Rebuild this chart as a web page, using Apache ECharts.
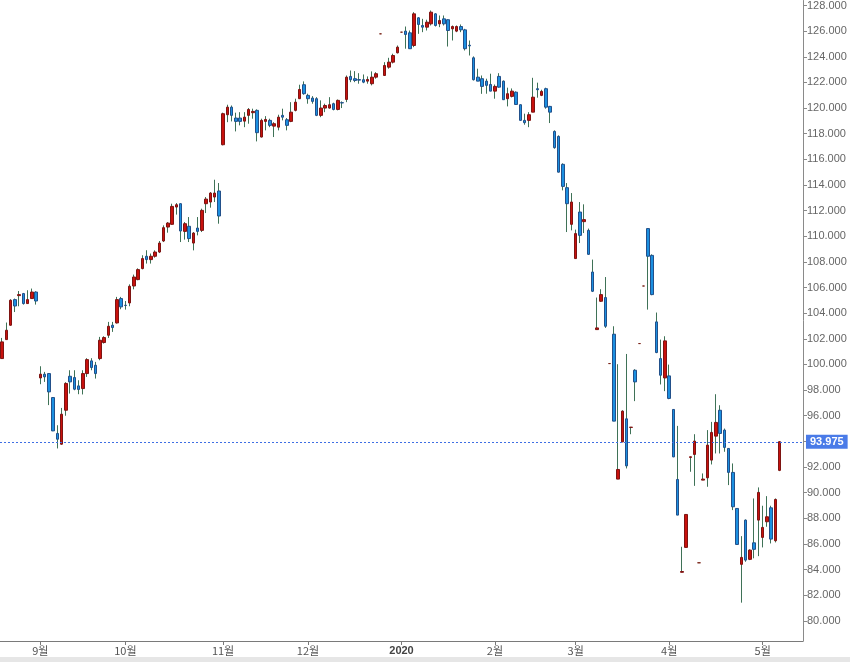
<!DOCTYPE html>
<html>
<head>
<meta charset="utf-8">
<script src="https://cdn.jsdelivr.net/npm/echarts@6/dist/echarts.min.js"></script>
<style>
html,body{margin:0;padding:0;background:#fff;}
#chart{width:850px;height:662px;}
</style>
</head>
<body>
<div id="chart"></div>
<script>
// Trading days (plus a few flat holiday bars) and empty slots to the right
const dates = [
'2019-08-20','2019-08-21','2019-08-22','2019-08-23','2019-08-26','2019-08-27','2019-08-28','2019-08-29','2019-08-30',
'2019-09-03','2019-09-04','2019-09-05','2019-09-06','2019-09-09','2019-09-10','2019-09-11','2019-09-12','2019-09-13','2019-09-16','2019-09-17','2019-09-18','2019-09-19','2019-09-20','2019-09-23','2019-09-24','2019-09-25','2019-09-26','2019-09-27','2019-09-30',
'2019-10-01','2019-10-02','2019-10-03','2019-10-04','2019-10-07','2019-10-08','2019-10-09','2019-10-10','2019-10-11','2019-10-14','2019-10-15','2019-10-16','2019-10-17','2019-10-18','2019-10-21','2019-10-22','2019-10-23','2019-10-24','2019-10-25','2019-10-28','2019-10-29','2019-10-30','2019-10-31',
'2019-11-01','2019-11-04','2019-11-05','2019-11-06','2019-11-07','2019-11-08','2019-11-11','2019-11-12','2019-11-13','2019-11-14','2019-11-15','2019-11-18','2019-11-19','2019-11-20','2019-11-21','2019-11-22','2019-11-25','2019-11-26','2019-11-27','2019-11-29',
'2019-12-02','2019-12-03','2019-12-04','2019-12-05','2019-12-06','2019-12-09','2019-12-10','2019-12-11','2019-12-12','2019-12-13','2019-12-16','2019-12-17','2019-12-18','2019-12-19','2019-12-20','2019-12-23','2019-12-24','2019-12-25','2019-12-26','2019-12-27','2019-12-30','2019-12-31',
'2020-01-01','2020-01-02','2020-01-03','2020-01-06','2020-01-07','2020-01-08','2020-01-09','2020-01-10','2020-01-13','2020-01-14','2020-01-15','2020-01-16','2020-01-17','2020-01-21','2020-01-22','2020-01-23','2020-01-24','2020-01-27','2020-01-28','2020-01-29','2020-01-30','2020-01-31',
'2020-02-03','2020-02-04','2020-02-05','2020-02-06','2020-02-07','2020-02-10','2020-02-11','2020-02-12','2020-02-13','2020-02-14','2020-02-18','2020-02-19','2020-02-20','2020-02-21','2020-02-24','2020-02-25','2020-02-26','2020-02-27','2020-02-28',
'2020-03-02','2020-03-03','2020-03-04','2020-03-05','2020-03-06','2020-03-09','2020-03-10','2020-03-11','2020-03-12','2020-03-13','2020-03-16','2020-03-17','2020-03-18','2020-03-19','2020-03-20','2020-03-23','2020-03-24','2020-03-25','2020-03-26','2020-03-27','2020-03-30','2020-03-31',
'2020-04-01','2020-04-02','2020-04-03','2020-04-06','2020-04-07','2020-04-08','2020-04-09','2020-04-10','2020-04-13','2020-04-14','2020-04-15','2020-04-16','2020-04-17','2020-04-20','2020-04-21','2020-04-22','2020-04-23','2020-04-24','2020-04-27','2020-04-28','2020-04-29','2020-04-30',
'2020-05-01','2020-05-04','2020-05-05','2020-05-06','2020-05-07',
'2020-05-08','2020-05-11','2020-05-12','2020-05-13','2020-05-14'
];

const opens = [
100.46,101.94,103.06,105.06,105.37,105.53,104.75,105.14,105.65,
98.95,99.24,99.29,97.42,94.62,93.78,96.43,99.08,98.98,98.33,98.12,99.29,100.28,99.94,100.46,101.71,102.28,103.06,103.24,105.14,
104.62,104.80,106.12,106.62,107.48,108.44,108.18,108.44,108.77,109.63,110.72,110.93,112.28,112.54,110.38,110.78,109.47,110.64,110.46,112.54,112.67,113.06,113.53,
117.14,119.48,120.07,119.22,119.22,118.98,119.43,119.64,119.82,117.74,118.96,119.04,118.59,118.51,119.43,119.09,118.96,119.82,120.73,121.82,
120.99,120.78,120.73,119.43,120.00,120.00,120.34,119.89,120.42,120.67,122.47,122.29,122.22,122.21,122.10,121.90,122.41,125.79,122.54,123.19,123.58,124.31,
125.92,126.00,125.87,124.88,127.04,126.44,126.31,126.57,127.35,126.57,126.96,126.89,126.18,126.00,126.36,126.10,124.90,123.92,122.41,122.29,122.10,121.84,
121.32,122.47,122.10,120.73,120.91,121.24,120.26,119.04,119.04,119.68,121.51,120.99,121.51,120.13,118.18,117.79,115.61,113.79,110.93,
108.26,111.89,111.14,110.46,107.21,102.72,104.93,105.22,100.07,102.36,91.06,93.96,95.76,95.09,99.55,101.63,106.12,110.60,108.51,103.32,100.46,98.95,
99.11,96.49,91.03,83.79,85.73,92.75,92.98,84.53,90.98,91.16,92.54,94.41,96.43,94.88,93.45,91.58,88.77,84.41,87.86,84.80,86.09,87.86,
86.51,87.73,88.82,86.25,91.74
];

const closes = [
101.76,102.67,105.01,104.56,105.45,104.75,105.06,105.65,104.95,
99.24,99.03,97.86,94.82,94.17,96.12,98.52,98.64,98.07,98.05,99.29,100.38,99.76,99.29,101.89,102.10,102.98,102.88,105.06,104.49,
104.60,106.10,106.82,107.40,108.26,108.18,108.44,108.77,109.47,110.67,111.03,112.33,112.46,110.41,110.98,109.82,110.25,110.38,112.02,112.90,113.37,113.37,111.58,
119.56,120.07,119.43,118.96,118.96,119.29,119.89,119.74,118.08,119.04,119.11,118.65,118.78,119.29,119.29,118.65,119.68,120.46,121.45,121.12,
120.73,120.52,119.43,120.00,120.20,120.26,119.89,120.60,120.40,122.41,122.21,122.15,122.18,122.02,122.23,122.41,122.68,125.79,123.32,123.58,124.10,124.75,
125.92,125.74,124.63,127.35,126.52,126.31,126.70,127.48,126.44,126.83,126.57,126.05,126.36,126.36,126.10,124.63,124.85,122.21,122.10,121.69,121.77,121.32,
121.69,121.63,120.65,121.12,121.32,120.28,119.04,118.86,119.48,120.85,121.43,121.30,120.07,119.68,116.91,115.00,113.89,112.54,112.67,
110.21,110.07,111.30,108.59,105.71,102.85,105.45,102.98,100.07,95.58,91.81,96.36,92.09,95.11,98.64,101.63,106.12,108.44,105.45,100.93,99.16,101.84,
97.35,92.79,88.25,83.85,88.30,92.80,94.02,84.53,91.06,93.71,94.70,95.48,94.62,93.53,91.58,88.90,85.96,84.95,84.74,85.52,85.58,90.02,
87.29,88.12,86.38,89.47,93.975
];

const lows = [
100.44,101.92,103.02,104.09,104.54,104.67,104.73,105.12,104.67,
98.46,98.64,96.83,94.80,93.45,93.74,96.00,97.73,97.99,97.68,97.66,99.03,99.55,98.90,100.33,101.63,102.07,102.54,103.19,104.31,
104.28,104.54,105.86,106.57,107.42,107.87,107.87,108.33,108.69,109.55,110.28,110.91,111.69,109.55,109.74,109.55,108.90,110.07,110.33,111.81,112.23,112.67,110.98,
117.09,118.90,118.96,118.18,118.65,118.51,118.78,119.17,117.40,117.71,118.26,118.51,117.74,118.26,119.04,118.26,118.90,119.74,120.71,121.04,
120.34,120.34,119.37,119.29,119.68,119.95,119.82,119.82,120.00,120.46,122.02,122.02,121.90,121.94,121.90,121.77,122.29,125.79,122.52,123.07,123.48,124.26,
125.92,124.63,124.63,124.75,125.79,125.92,126.05,126.44,126.36,126.31,126.44,124.80,125.27,125.92,125.92,124.49,124.10,122.15,122.10,121.11,121.12,121.32,
120.73,121.59,120.65,120.13,120.83,120.24,119.01,118.70,118.51,119.68,120.81,120.93,119.95,118.83,116.83,114.98,113.58,110.33,110.46,
108.26,109.47,110.25,108.55,105.65,102.72,104.88,102.85,100.07,95.58,91.06,93.94,91.89,94.56,97.14,101.63,106.12,104.28,105.40,100.88,98.44,97.92,
97.29,92.77,88.25,83.79,85.72,91.63,90.53,84.53,90.98,90.46,92.20,93.06,93.06,93.19,90.59,88.64,85.95,81.42,84.61,84.74,84.88,85.05,
85.73,87.34,86.04,86.12,91.68
];

const highs = [
102.07,103.27,105.09,105.14,105.73,105.58,105.79,105.92,105.71,
99.86,99.42,99.32,97.45,95.26,96.61,98.62,99.55,99.55,98.77,99.55,100.49,100.49,100.20,102.15,102.20,103.32,103.32,105.27,105.27,
104.95,106.25,107.01,107.50,108.52,108.91,108.65,108.90,109.63,110.85,111.11,112.54,112.59,112.57,111.11,111.50,110.33,111.50,112.15,113.06,113.45,114.41,114.15,
119.64,120.26,120.20,119.64,119.68,119.68,120.00,119.95,119.90,119.17,119.37,119.17,118.90,119.48,119.95,119.22,120.46,120.73,121.82,122.08,
121.12,120.93,120.85,120.60,120.34,120.85,120.42,120.67,120.52,122.54,122.93,122.88,122.72,122.62,122.47,122.86,122.80,125.79,123.58,123.92,124.24,124.88,
125.92,126.36,126.05,127.48,127.09,126.96,126.89,127.61,127.40,127.22,127.22,126.91,126.44,126.44,126.52,126.18,125.27,124.03,123.07,122.54,122.29,122.68,
121.84,122.72,122.15,121.59,121.53,121.30,120.28,119.56,119.68,122.36,121.98,121.43,121.59,120.17,118.26,117.87,115.69,114.15,113.37,
110.52,112.67,112.49,110.60,108.18,105.22,105.87,106.82,100.07,102.98,100.02,96.43,100.82,95.11,99.63,101.63,106.12,110.62,108.59,104.05,101.94,102.20,
99.99,96.51,95.21,85.78,88.32,92.80,94.56,84.53,91.50,94.88,95.52,97.68,96.82,95.00,93.47,92.28,88.80,86.61,87.91,85.58,89.55,90.41,
88.98,89.73,88.98,89.55,94.02
];

const lastPrice = 93.975;

const wickData = opens.map((o, i) => [o, closes[i], lows[i], highs[i]]);
const bodyData = opens.map((o, i) => [o, closes[i], Math.min(o, closes[i]), Math.max(o, closes[i])]);

function isMonthStart(index) {
  if (index === 0 || index >= opens.length) return false;
  return dates[index].slice(0, 7) !== dates[index - 1].slice(0, 7);
}

const chart = echarts.init(document.getElementById('chart'), null, {renderer: 'canvas'});
chart.setOption({
  animation: false,
  backgroundColor: '#ffffff',
  grid: {left: 0, right: 47, top: 0, bottom: 21, containLabel: false},
  xAxis: {
    type: 'category',
    data: dates,
    boundaryGap: true,
    axisLine: {show: true, lineStyle: {color: '#7a7a7a', width: 1}},
    axisTick: {show: true, alignWithLabel: true, length: 4, interval: (i) => isMonthStart(i), lineStyle: {color: '#7a7a7a'}},
    axisLabel: {
      interval: (i) => isMonthStart(i),
      formatter: (v) => { const m = +v.slice(5, 7); return m === 1 ? '{y|' + v.slice(0, 4) + '}' : m + '월'; },
      color: '#555', fontSize: 11, margin: 4,
      fontFamily: '"Noto Sans CJK KR", "Liberation Sans", sans-serif',
      rich: {y: {fontWeight: 'bold', color: '#444', fontSize: 11, fontFamily: '"Liberation Sans", Arial, sans-serif'}}
    },
    splitLine: {show: false}
  },
  yAxis: {
    type: 'value',
    position: 'right',
    min: 78.43,
    max: 128.39,
    splitNumber: 25,
    minInterval: 2,
    maxInterval: 2,
    axisLine: {show: true, lineStyle: {color: '#8a8a8a', width: 1}},
    axisTick: {show: true, length: 4, inside: false, lineStyle: {color: '#8a8a8a'}},
    axisLabel: {
      formatter: (v) => v.toFixed(3),
      color: '#666', fontSize: 11, margin: 4,
      fontFamily: '"Liberation Sans", Arial, sans-serif',
      showMinLabel: false, showMaxLabel: false
    },
    splitLine: {show: false}
  },
  graphic: [
    {type: 'rect', left: 0, top: 657, shape: {width: 850, height: 5}, style: {fill: '#e6e6e6'}, z: -1}
  ],
  series: [
    {
      name: 'wick',
      type: 'candlestick',
      data: wickData,
      barWidth: 1,
      z: 2,
      itemStyle: {color: '#3f7257', color0: '#3f7257', borderColor: '#3f7257', borderColor0: '#3f7257', borderColorDoji: '#3f7257', borderWidth: 1}
    },
    {
      name: 'body',
      type: 'candlestick',
      data: bodyData,
      barWidth: 3,
      z: 3,
      itemStyle: {color: '#c8110d', color0: '#1b8fe0', borderColor: '#7e1412', borderColor0: '#22508a', borderColorDoji: '#7a2418', borderWidth: 1},
      markLine: {
        silent: true,
        symbol: 'none',
        data: [{yAxis: lastPrice}],
        lineStyle: {color: '#3f6fe4', type: [2, 2], width: 1},
        label: {
          show: true, position: 'end', distance: 3,
          formatter: () => lastPrice.toFixed(3),
          color: '#ffffff', fontWeight: 'bold', fontSize: 11,
          fontFamily: '"Liberation Sans", Arial, sans-serif',
          backgroundColor: '#4a7be8', padding: [2, 4, 1, 4]
        },
        emphasis: {disabled: true}
      }
    }
  ]
});
</script>
</body>
</html>
